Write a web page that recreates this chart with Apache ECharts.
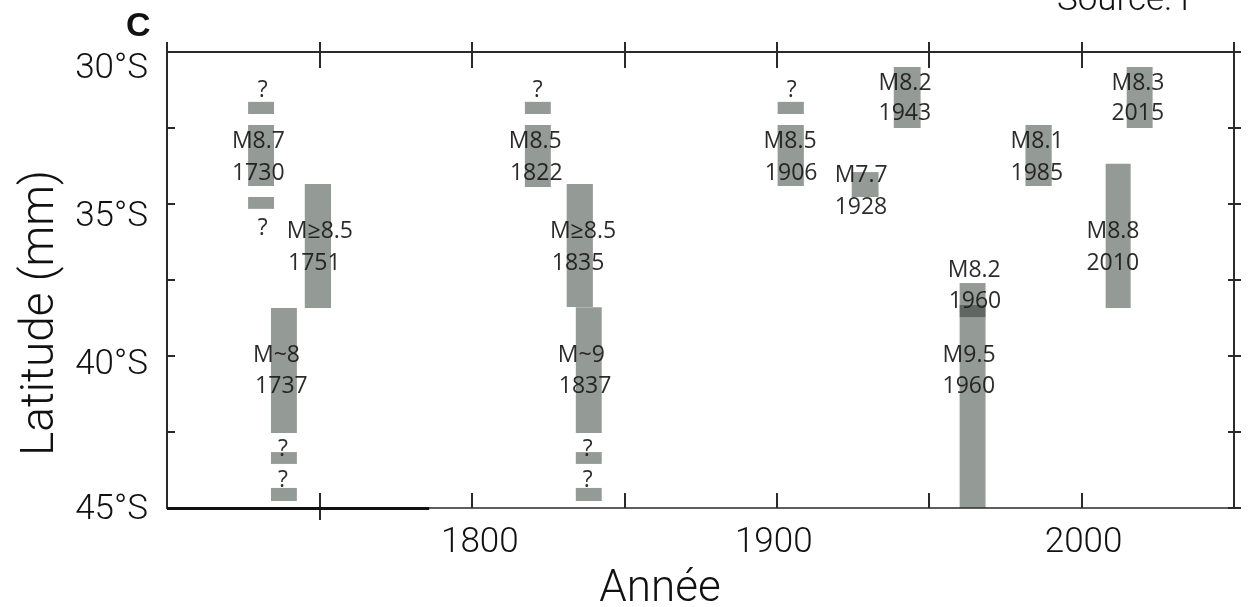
<!DOCTYPE html>
<html><head><meta charset="utf-8">
<script src="https://cdn.jsdelivr.net/npm/echarts@6/dist/echarts.min.js"></script>
<style>html,body{margin:0;padding:0;background:#fff}#c{width:1250px;height:607px}</style>
</head><body><div id="c"></div>
<script>
// ---- axis ticks / labels ----
const xTickValues = [1700, 1750, 1800, 1850, 1900, 1950, 2000, 2050];
const xTickLabels = {1800: '1800', 1900: '1900', 2000: '2000'};
const yTickLabels = {30: '30°S', 35: '35°S', 40: '40°S', 45: '45°S'};

// ---- rupture zones (year span, latitude span in °S) ----
const ruptureName  = ['1730?N','1730','1730?S','1751','1737','1737?a','1737?b','1822?','1822','1835','1837','1837?a','1837?b','1906?','1906','1928','1943','1960a','1960b','1985','2010','2015'];
const ruptureStart = [1726.6,1726.6,1726.6,1745.2,1734.1,1734.1,1734.1,1817.4,1817.4,1831.1,1834.1,1834.1,1834.1,1900.3,1900.3,1924.6,1938.4,1960.0,1960.0,1981.6,2007.9,2014.8];
const ruptureEnd   = [1735.1,1735.1,1735.1,1753.8,1742.6,1742.6,1742.6,1825.9,1825.9,1839.7,1842.6,1842.6,1842.6,1908.9,1908.9,1933.4,1947.2,1968.5,1968.5,1990.2,2016.1,2023.3];
const ruptureNorth = [31.64,32.40,34.77,34.34,38.42,43.16,44.34,31.64,32.40,34.34,38.40,43.16,44.34,31.64,32.40,33.95,30.49,37.60,38.32,32.40,33.68,30.49];
const ruptureSouth = [32.04,34.41,35.16,38.42,42.53,43.55,44.77,32.04,34.44,38.39,42.53,43.55,44.77,32.04,34.41,34.77,32.50,38.72,45.00,34.41,38.42,32.50];

// ---- annotations (left edge year, latitude of line) ----
const labelText = ['?','M8.7','1730','?','M≥8.5','1751','M~8','1737','?','?','?','M8.5','1822','M≥8.5','1835','M~9','1837','?','?','?','M8.5','1906','M7.7','1928','M8.2','1943','M8.2','1960','M9.5','1960','M8.1','1985','M8.8','2010','M8.3','2015'];
const labelYear = [1729.8,1721.3,1721.3,1729.8,1739.3,1739.7,1728.2,1728.9,1736.4,1736.4,1820.0,1812.1,1812.5,1825.6,1826.2,1828.2,1828.5,1836.4,1836.4,1903.3,1895.7,1896.1,1919.0,1919.0,1933.4,1933.4,1956.1,1956.4,1954.4,1954.4,1976.7,1976.7,2001.6,2001.6,2009.8,2009.8];
const labelLat  = [31.28,32.93,33.98,35.79,35.89,36.94,39.97,40.99,43.09,44.08,31.28,32.93,33.98,35.89,36.94,39.97,40.99,43.09,44.08,31.28,32.93,33.98,34.05,35.13,31.02,32.01,37.17,38.19,39.97,40.99,32.93,33.98,35.89,36.94,31.02,32.01];

const LIGHT = 'Roboto, "Helvetica Neue", sans-serif';
const AX = '#2a2a2a';

const rectData = ruptureStart.map((s, i) => [s, ruptureEnd[i], ruptureNorth[i], ruptureSouth[i]]);
const labelData = labelYear.map((y, i) => [y, labelLat[i]]);

const xLabelRich = {
  a1800: {fontSize: 35, fontFamily: LIGHT, fontWeight: 300, color: '#111', padding: [0, 0, 0, 16]},
  a1900: {fontSize: 35, fontFamily: LIGHT, fontWeight: 300, color: '#111', padding: [0, 6, 0, 0]},
  a2000: {fontSize: 35, fontFamily: LIGHT, fontWeight: 300, color: '#111', padding: [0, 0, 0, 4]}
};
const yLabelRich = {
  l30: {fontSize: 35, fontFamily: LIGHT, fontWeight: 300, color: '#111', padding: [34, 0, 0, 0]},
  l35: {fontSize: 35, fontFamily: LIGHT, fontWeight: 300, color: '#111', padding: [26, 0, 0, 0]},
  l40: {fontSize: 35, fontFamily: LIGHT, fontWeight: 300, color: '#111', padding: [18, 0, 0, 0]},
  l45: {fontSize: 35, fontFamily: LIGHT, fontWeight: 300, color: '#111', padding: [4, 0, 0, 0]}
};

const baseX = {type: 'value', min: 1700, max: 2050, interval: 50, splitLine: {show: false}};
const baseY = {type: 'value', min: 30, max: 45, interval: 2.5, inverse: true, splitLine: {show: false}};

const option = {
  animation: false,
  backgroundColor: '#fff',
  grid: [
    {left: 167, right: 16, top: 52, bottom: 99},
    {left: 167, right: 16, top: 52, bottom: 99}
  ],
  xAxis: [
    Object.assign({}, baseX, {
      gridIndex: 0, position: 'bottom',
      axisLine: {lineStyle: {color: AX, width: 1.5}},
      axisTick: {inside: true, length: 15, lineStyle: {color: AX, width: 2}},
      axisLabel: {
        margin: 18, showMinLabel: true, showMaxLabel: true,
        formatter: v => xTickLabels[v] ? '{a' + v + '|' + xTickLabels[v] + '}' : '',
        rich: xLabelRich
      }
    }),
    Object.assign({}, baseX, {
      gridIndex: 0, position: 'top',
      axisLine: {lineStyle: {color: AX, width: 2}},
      axisTick: {inside: true, length: 16, lineStyle: {color: AX, width: 2}},
      axisLabel: {show: false}
    }),
    Object.assign({}, baseX, {
      gridIndex: 1, position: 'top',
      axisLine: {show: false},
      axisTick: {inside: false, length: 10, lineStyle: {color: AX, width: 2}},
      axisLabel: {show: false}
    }),
    Object.assign({}, baseX, {
      gridIndex: 1, position: 'bottom',
      axisLine: {show: false},
      axisTick: {inside: false, length: 12, customValues: [1750], lineStyle: {color: AX, width: 2}},
      axisLabel: {show: false}
    })
  ],
  yAxis: [
    Object.assign({}, baseY, {
      gridIndex: 0, position: 'left',
      axisLine: {lineStyle: {color: AX, width: 2}},
      axisTick: {inside: true, length: 8, lineStyle: {color: AX, width: 2}},
      axisLabel: {
        margin: 19, showMinLabel: true, showMaxLabel: true,
        formatter: v => yTickLabels[v] ? '{l' + v + '|' + yTickLabels[v] + '}' : '',
        rich: yLabelRich
      }
    }),
    Object.assign({}, baseY, {
      gridIndex: 0, position: 'right',
      axisLine: {lineStyle: {color: AX, width: 2}},
      axisTick: {inside: true, length: 6, lineStyle: {color: AX, width: 2}},
      axisLabel: {show: false}
    }),
    Object.assign({}, baseY, {
      gridIndex: 1, position: 'left',
      axisLine: {show: false}, axisTick: {show: false}, axisLabel: {show: false}
    }),
    Object.assign({}, baseY, {
      gridIndex: 1, position: 'right',
      axisLine: {show: false},
      axisTick: {inside: false, length: 7, lineStyle: {color: AX, width: 2}},
      axisLabel: {show: false}
    })
  ],
  series: [
    {
      type: 'custom', name: 'ruptures', xAxisIndex: 0, yAxisIndex: 0,
      data: rectData,
      renderItem: (params, api) => {
        const p0 = api.coord([api.value(0), api.value(2)]);
        const p1 = api.coord([api.value(1), api.value(3)]);
        return {
          type: 'rect',
          shape: {x: p0[0], y: p0[1], width: p1[0] - p0[0], height: p1[1] - p0[1]},
          style: {fill: 'rgba(41,53,43,0.5)'}
        };
      },
      markLine: {
        silent: true, symbol: 'none', label: {show: false},
        lineStyle: {color: '#111', width: 3, type: 'solid'},
        data: [[{coord: [1700, 45]}, {coord: [1786, 45]}]]
      },
      z: 2
    },
    {
      type: 'custom', name: 'labels', xAxisIndex: 0, yAxisIndex: 0,
      data: labelData,
      renderItem: (params, api) => {
        const p = api.coord([api.value(0), api.value(1)]);
        return {
          type: 'text', x: p[0], y: p[1],
          style: {
            text: labelText[params.dataIndex],
            fontSize: 23,
            fontFamily: '"Open Sans", "Noto Sans", sans-serif',
            fill: 'rgba(25,25,25,0.92)',
            align: 'left', verticalAlign: 'middle'
          }
        };
      },
      z: 3
    }
  ],
  graphic: [
    {type: 'text', x: 660, y: 612, style: {text: 'Année', fontSize: 44, fontWeight: 300, fontFamily: LIGHT, fill: '#111', align: 'center', verticalAlign: 'bottom'}},
    {type: 'text', x: 41, y: 313, rotation: Math.PI / 2, style: {text: 'Latitude (mm)', fontSize: 46, fontWeight: 300, fontFamily: LIGHT, fill: '#111', align: 'center', verticalAlign: 'middle'}},
    {type: 'text', x: 126, y: 27, style: {text: 'C', fontSize: 34, fontWeight: 'bold', fontFamily: 'Liberation Sans', fill: '#111', align: 'left', verticalAlign: 'middle'}},
    {type: 'text', x: 1057, y: 1, style: {text: 'Source: I', fontSize: 35, fontWeight: 300, fontFamily: LIGHT, fill: '#111', align: 'left', verticalAlign: 'middle'}}
  ]
};

const chart = echarts.init(document.getElementById('c'), null, {renderer: 'canvas'});
chart.setOption(option);
</script>
</body></html>
